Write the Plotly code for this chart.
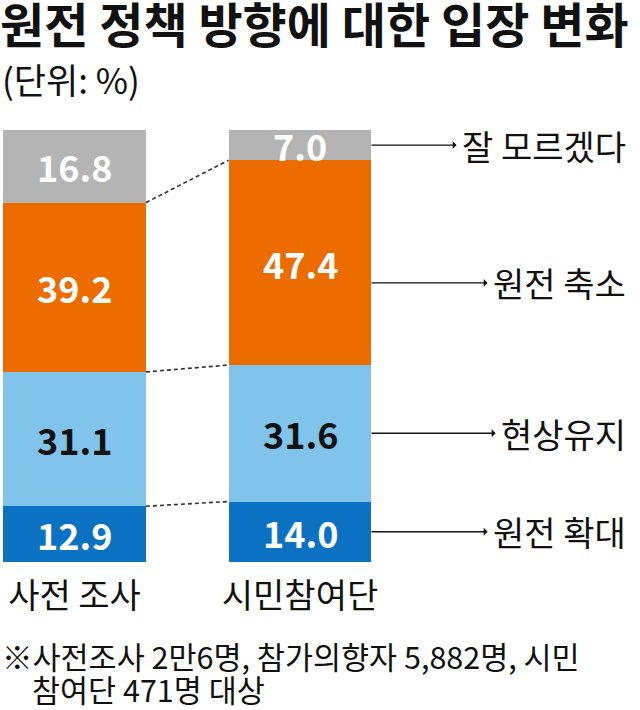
import plotly.graph_objects as go

# ---- data ----
groups = ["사전 조사", "시민참여단"]
series_names = ["원전 확대", "현상유지", "원전 축소", "잘 모르겠다"]  # bottom -> top
expand_vals = [12.9, 14.0]
keep_vals = [31.1, 31.6]
reduce_vals = [39.2, 47.4]
unknown_vals = [16.8, 7.0]
value_labels = {
    "원전 확대": ["12.9", "14.0"],
    "현상유지": ["31.1", "31.6"],
    "원전 축소": ["39.2", "47.4"],
    "잘 모르겠다": ["16.8", "7.0"],
}
title_text = "원전 정책 방향에 대한 입장 변화"
unit_text = "(단위: %)"
note_line1 = "※사전조사 2만6명, 참가의향자 5,882명, 시민"
note_line2 = "참여단 471명 대상"

# ---- styles ----
FONT = "Noto Sans CJK KR"
colors = {"원전 확대": "#0b72c3", "현상유지": "#80c4ec", "원전 축소": "#ec6c00", "잘 모르겠다": "#b4b4b4"}
text_colors = {"원전 확대": "white", "현상유지": "#111111", "원전 축소": "white", "잘 모르겠다": "white"}
arrow_offset = {"원전 축소": -4.7}

values = {"원전 확대": expand_vals, "현상유지": keep_vals, "원전 축소": reduce_vals, "잘 모르겠다": unknown_vals}
xpos = [0, 1]
W = 0.634

fig = go.Figure()
cum = [[0.0, 0.0]]
for name in series_names:
    fig.add_trace(go.Bar(x=xpos, y=values[name], width=W, marker=dict(color=colors[name], line=dict(width=0)),
                         name=name, showlegend=False, hoverinfo="skip"))
    cum.append([cum[-1][i] + values[name][i] for i in range(2)])

# dashed connector lines between the bars (at internal boundaries)
for k in range(1, len(series_names)):
    fig.add_trace(go.Scatter(x=[xpos[0] + W / 2, xpos[1] - W / 2], y=[cum[k][0], cum[k][1]], mode="lines",
                             line=dict(color="#333333", width=1.6, dash="4px,3px"), showlegend=False,
                             hoverinfo="skip"))

annotations = []
# value labels
for k, name in enumerate(series_names):
    for i in range(2):
        mid = (cum[k][i] + cum[k + 1][i]) / 2
        annotations.append(dict(x=xpos[i], y=mid, xref="x", yref="y", text=value_labels[name][i], showarrow=False,
                                font=dict(family=FONT, size=36, color=text_colors[name], weight=700)))

# right side labels with arrows
for k, name in enumerate(series_names):
    mid = (cum[k][1] + cum[k + 1][1]) / 2 + arrow_offset.get(name, 0)
    annotations.append(dict(x=xpos[1] + W / 2, y=mid, xref="x", yref="y", ax=2.455, ay=mid, axref="x", ayref="y",
                            text=name, xanchor="right", yanchor="middle", showarrow=True, arrowside="start",
                            arrowhead=2, arrowsize=1.2, arrowwidth=1.3, arrowcolor="#111111", startstandoff=4,
                            font=dict(family=FONT, size=34, color="#111111")))

def py(pixel):
    return (562 - pixel) / 432.0

annotations.append(dict(x=0.0, y=py(79), xref="paper", yref="paper", text=unit_text, showarrow=False,
                        xanchor="left", yanchor="middle", font=dict(family=FONT, size=35, color="#111111")))
annotations.append(dict(x=0.0, y=py(656), xref="paper", yref="paper", text=note_line1, showarrow=False,
                        xanchor="left", yanchor="middle", font=dict(family=FONT, size=30.5, color="#111111")))
annotations.append(dict(x=30 / 640, y=py(689), xref="paper", yref="paper", text=note_line2, showarrow=False,
                        xanchor="left", yanchor="middle", font=dict(family=FONT, size=30.5, color="#111111")))

fig.update_layout(
    width=640, height=710,
    margin=dict(l=0, r=0, t=130, b=148),
    paper_bgcolor="white", plot_bgcolor="white",
    barmode="stack",
    title=dict(text=title_text, x=0.0, xanchor="left", xref="container", y=1 - 26 / 710, yanchor="middle",
               font=dict(family=FONT, size=48, color="#111111", weight=700)),
    xaxis=dict(range=[-74.5 / 225.5, (640 - 74.5) / 225.5], tickvals=xpos, ticktext=groups, showgrid=False,
               zeroline=False, showline=False, ticks="", tickfont=dict(family=FONT, size=34, color="#111111"),
               ticklabelstandoff=11, fixedrange=True),
    yaxis=dict(range=[0, 100], visible=False, fixedrange=True),
    annotations=annotations,
)

fig.write_html("out.html", config={"displayModeBar": False, "staticPlot": True},
               post_script="document.body.style.margin='0';document.body.style.overflow='hidden';")
